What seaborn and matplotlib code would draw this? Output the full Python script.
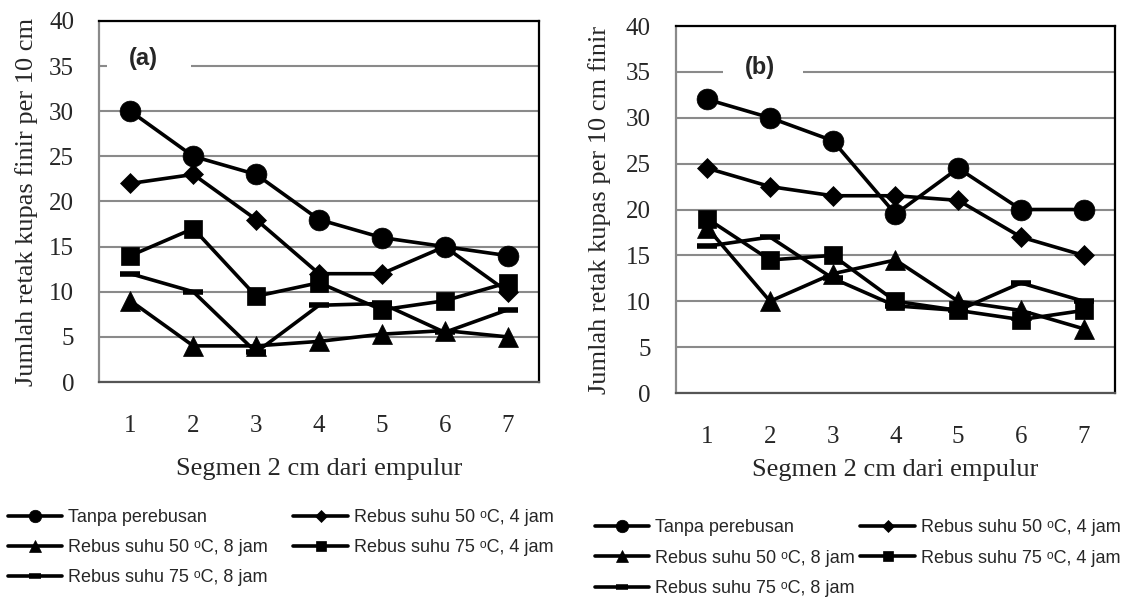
import numpy as np
import pandas as pd
import matplotlib.pyplot as plt
from matplotlib.patches import Rectangle
import seaborn as sns

# segments (x) and series values
segmen = [1, 2, 3, 4, 5, 6, 7]
seri = ['Tanpa perebusan', 'Rebus suhu 50 \u1d52C, 4 jam', 'Rebus suhu 50 \u1d52C, 8 jam',
        'Rebus suhu 75 \u1d52C, 4 jam', 'Rebus suhu 75 \u1d52C, 8 jam']

# panel (a)
a_tanpa = [30, 25, 23, 18, 16, 15, 14]
a_50_4 = [22, 23, 18, 12, 12, 15, 10]
a_50_8 = [9, 4, 4, 4.5, 5.3, 5.7, 5]
a_75_4 = [14, 17, 9.5, 11, 8, 9, 11]
a_75_8 = [12, 10, 3.3, 8.5, 8.7, 5.5, 8]

# panel (b)
b_tanpa = [32, 30, 27.5, 19.5, 24.5, 20, 20]
b_50_4 = [24.5, 22.5, 21.5, 21.5, 21, 17, 15]
b_50_8 = [18, 10, 13, 14.5, 10, 9, 7]
b_75_4 = [19, 14.5, 15, 10, 9, 8, 9]
b_75_8 = [16, 17, 12.5, 9.5, 9, 12, 10]

markers = dict(zip(seri, ['o', 'D', '^', 's', '_']))
msize = dict(zip(seri, [15, 10, 14, 13, 14]))


def long_df(vals):
    rows = []
    for s, v in zip(seri, vals):
        for x, y in zip(segmen, v):
            rows.append({'seg': x, 'val': y, 'seri': s})
    return pd.DataFrame(rows)


df_a = long_df([a_tanpa, a_50_4, a_50_8, a_75_4, a_75_8])
df_b = long_df([b_tanpa, b_50_4, b_50_8, b_75_4, b_75_8])

sns.set_style('white')
serif = ['Liberation Serif', 'DejaVu Serif']
sans = ['Liberation Sans', 'DejaVu Sans']
GRID = '#8a8a8a'

fig = plt.figure(figsize=(11.33, 5.98), dpi=100)
ax_a = fig.add_axes([0.0874, 0.3612, 0.3883, 0.6037])
ax_b = fig.add_axes([0.5966, 0.3428, 0.3875, 0.6137])


def draw(ax, df, ylab, ylab_x, xlabpad, tag, tag_xy, box, leg_anchor, colsp, lsp):
    for s in seri:
        sub = df[df['seri'] == s]
        sns.lineplot(data=sub, x='seg', y='val', ax=ax, color='black', lw=2.6,
                     marker=markers[s], markersize=msize[s],
                     markeredgewidth=4 if s == seri[4] else 0.5,
                     markeredgecolor='black', label=s, legend=False, zorder=3)
    ax.set_xlim(0.5, 7.5)
    ax.set_ylim(0, 40)
    ax.set_yticks(np.arange(0, 41, 5))
    ax.yaxis.grid(True, color=GRID, lw=1.5)
    ax.set_axisbelow(True)
    ax.set_xticks(segmen)
    ax.set_xticks(np.arange(0.5, 7.6, 1), minor=True)
    ax.tick_params(axis='x', which='major', length=0, pad=24, labelsize=18)
    ax.tick_params(axis='x', which='minor', length=6, width=1.5, color=GRID, direction='out')
    ax.tick_params(axis='y', length=0, pad=18, labelsize=18)
    for lab in ax.get_xticklabels() + ax.get_yticklabels():
        lab.set_family(serif)
    for side in ['top', 'right']:
        ax.spines[side].set_color('black')
        ax.spines[side].set_linewidth(1.6)
    ax.spines['left'].set_color(GRID)
    ax.spines['left'].set_linewidth(1.6)
    ax.spines['bottom'].set_color('#555555')
    ax.spines['bottom'].set_linewidth(1.6)
    ax.set_xlabel('Segmen 2 cm dari empulur', family=serif, fontsize=19, labelpad=xlabpad)
    ax.set_ylabel(ylab, family=serif, fontsize=19)
    ax.yaxis.set_label_coords(ylab_x, 0.5)
    ax.add_patch(Rectangle((box[0], box[1]), box[2], box[3], transform=ax.transAxes,
                           facecolor='white', edgecolor='none', zorder=1))
    ax.text(tag_xy[0], tag_xy[1], tag, transform=ax.transAxes, family=sans, fontsize=17,
            fontweight='bold', ha='center', va='center', zorder=4)
    handles, labels = ax.get_legend_handles_labels()
    order = [0, 2, 4, 1, 3]
    fig.legend([handles[i] for i in order], [labels[i] for i in order], ncol=2,
               loc='upper left', bbox_to_anchor=leg_anchor, frameon=False,
               prop={'family': sans, 'size': 13}, handlelength=3.0, borderpad=0,
               borderaxespad=0, markerscale=0.6, labelspacing=lsp,
               columnspacing=colsp, handletextpad=0.35)


draw(ax_a, df_a, 'Jumlah retak kupas finir per 10 cm', -0.139, 15,
     '(a)', (0.10, 0.895), (0.018, 0.823, 0.19, 0.111), (0.007, 0.148), 1.4, 0.72)
draw(ax_b, df_b, 'Jumlah retak kupas per 10 cm finir', -0.148, 8,
     '(b)', (0.191, 0.888), (0.107, 0.826, 0.182, 0.109), (0.525, 0.132), 0.3, 0.75)

fig.savefig('out.png', dpi=100)
